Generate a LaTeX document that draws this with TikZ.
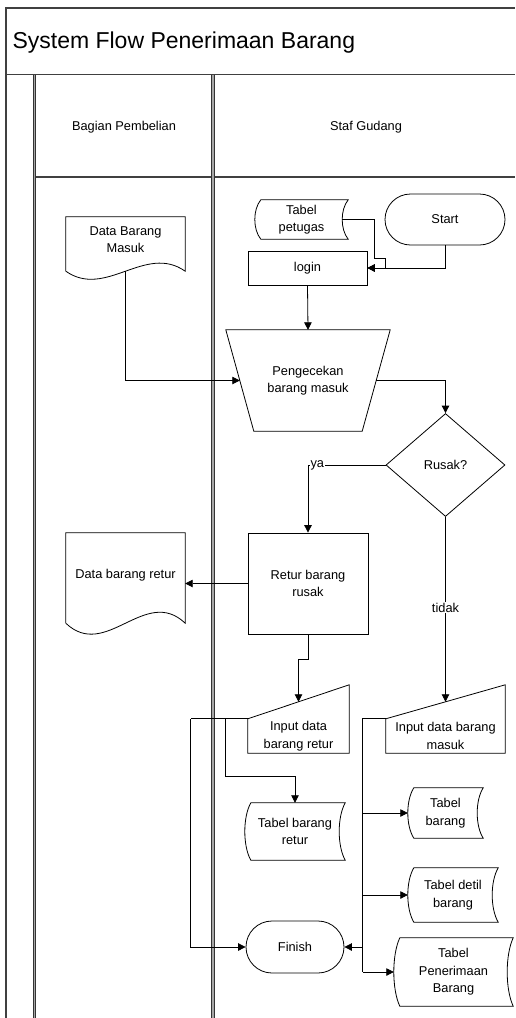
\documentclass[tikz,border=0pt]{standalone}
\usepackage{fontspec}
\setmainfont{Liberation Sans}
\usetikzlibrary{arrows.meta,shapes.geometric,shapes.misc,calc}

\tikzset{
  shp/.style={draw, line width=0.8pt},
  ln/.style={line width=0.8pt},
  con/.style={line width=0.8pt, -{Triangle[length=7.5pt,width=7.5pt]}},
  box/.style={inner sep=0pt, align=center},
  doc/.style={box, text depth=9pt},
  proc/.style={draw, line width=0.8pt, inner sep=0pt, align=center},
  term/.style={draw, rounded rectangle, line width=0.8pt, inner sep=0pt},
  dec/.style={draw, diamond, line width=0.8pt, inner sep=0pt},
  frame/.style={line width=1.2pt, draw=black!75},
  lane/.style={draw=black!80, double=black!35, double distance=1.6pt, line width=0.8pt},
  lbl/.style={fill=white, inner sep=1pt}
}

\newcommand\storedshape[1]{%
  \draw[shp] ([xshift=6pt]#1.north west) -- (#1.north east)
    .. controls ($(#1.north east)!.25!(#1.south east)+(-8,0)$) and ($(#1.north east)!.75!(#1.south east)+(-8,0)$) .. (#1.south east)
    -- ([xshift=6pt]#1.south west)
    .. controls ($(#1.south west)!.25!(#1.north west)+(-2,0)$) and ($(#1.south west)!.75!(#1.north west)+(-2,0)$) .. cycle;}
\newcommand\docshape[2]{%
  \draw[shp] (#1.south west) -- (#1.north west) -- (#1.north east) -- (#1.south east)
    .. controls +(-40,-#2) and +(40,#2) .. (#1.south west);}
\newcommand\inshape[1]{%
  \draw[shp] (#1.north west) -- ([yshift=34pt]#1.north east) -- (#1.south east) -- (#1.south west) -- cycle;}
\newcommand\manopshape[1]{%
  \draw[shp] (#1.north west) -- (#1.north east) -- ([xshift=-28pt]#1.south east) -- ([xshift=28pt]#1.south west) -- cycle;}

\begin{document}
\begin{tikzpicture}[x=1pt, y=-1pt, every node/.style={font=\fontsize{12.8}{17.5}\selectfont}]
  \useasboundingbox (0,0) rectangle (515,1018);

  \draw[frame] (6,1018) -- (6,8) -- (515,8);
  \draw[frame] (6,74.5) -- (515,74.5);
  \draw[frame] (35,177) -- (515,177);
  \foreach \x in {34.5,213}{
    \draw[lane] (\x,74.5) -- (\x,1018);
  }

  \node[anchor=west, font=\fontsize{23}{27}\selectfont] (title) at (9,43) {System Flow Penerimaan Barang};
  \node (hbp) at (124,127) {Bagian Pembelian};
  \node (hsg) at (366,127) {Staf Gudang};

  \node[term, minimum width=120pt, minimum height=51pt] (start) at (445,219.5) {Start};
  \node[box, minimum width=93pt, minimum height=39pt] (tp) at (301.5,219.5) {Tabel\\petugas};
  \storedshape{tp}
  \node[proc, minimum width=119pt, minimum height=34pt] (login) at (307.5,268) {login};

  \node[doc, minimum width=119pt, minimum height=54pt] (dbm) at (125.5,244) {Data Barang\\Masuk};
  \docshape{dbm}{28}
  \node[box, minimum width=164pt, minimum height=101pt] (pgk) at (308,380.5) {Pengecekan\\barang masuk};
  \manopshape{pgk}
  \node[dec, minimum width=119pt, minimum height=103pt] (rusak) at (445.5,465) {Rusak?};

  \node[proc, minimum width=120pt, minimum height=101pt] (retur) at (308,583.5) {Retur barang\\rusak};
  \node[doc, minimum width=119pt, minimum height=90pt] (dbr) at (125.5,578) {Data barang retur};
  \docshape{dbr}{38}

  \node[box, minimum width=101pt, minimum height=34pt] (iret) at (298.5,736) {Input data\\barang retur};
  \inshape{iret}
  \node[box, minimum width=119pt, minimum height=34pt] (imsk) at (445.5,736) {Input data barang\\masuk};
  \inshape{imsk}

  \node[box, minimum width=100pt, minimum height=57pt] (trt) at (295,831.5) {Tabel barang\\retur};
  \storedshape{trt}
  \node[box, minimum width=75pt, minimum height=50pt] (tb) at (445.5,813) {Tabel\\barang};
  \storedshape{tb}
  \node[box, minimum width=90pt, minimum height=54pt] (tdb) at (453,895) {Tabel detil\\barang};
  \storedshape{tdb}
  \node[box, minimum width=119pt, minimum height=68pt] (tpb) at (453.5,972) {Tabel\\Penerimaan\\Barang};
  \storedshape{tpb}
  \node[term, minimum width=98pt, minimum height=52pt] (fin) at (295,947) {Finish};

  \draw[con] (start.south) |- (login.east);
  \draw[con] ([xshift=-6pt]tp.east) -- ++(32,0) -- ++(0,38.5) -- ++(11,0) |- (login.east);
  \draw[con] (login.south) -- (pgk.north);
  \draw[con] (dbm.south) |- ([xshift=14pt]pgk.west);
  \draw[con] ([xshift=-14pt]pgk.east) -| (rusak.north);
  \draw[con] (rusak.west) -| node[lbl, pos=0.44] {ya} (retur.north);
  \draw[con] (rusak.south) -- node[lbl, pos=0.49] {tidak} ([yshift=17pt]imsk.north);
  \draw[con] (retur.west) -- (retur.west -| dbr.east);
  \draw[con] (retur.south) -- ++(0,25) -| ([yshift=17pt]iret.north);

  \draw[ln] (iret.north west) -- ++(-57,0) coordinate (bl);
  \draw[con] (bl) |- (fin.west);
  \draw[con] ([xshift=-22pt]iret.north west) -- ++(0,58) -| (trt.north);

  \coordinate (bt) at ([xshift=-23pt]imsk.north west);
  \draw[ln] (imsk.north west) -- (bt) -- (bt |- tpb.west);
  \foreach \n in {tb,tdb,tpb}{
    \draw[con] (bt |- \n.west) -- (\n.west);
  }
  \draw[con] (bt |- fin.east) -- (fin.east);
\end{tikzpicture}
\end{document}
